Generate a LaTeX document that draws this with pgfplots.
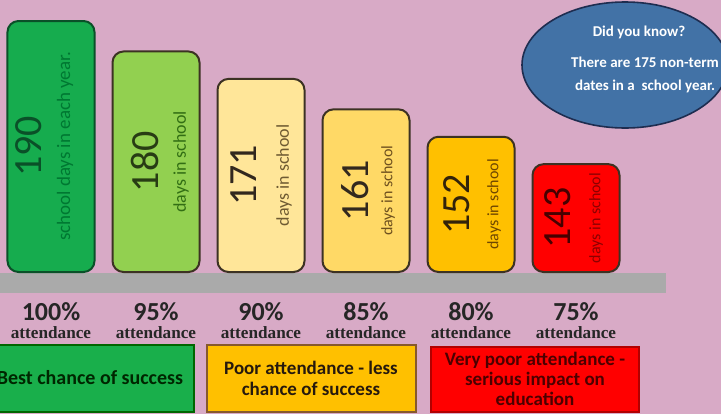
\documentclass[border=0pt]{standalone}
\usepackage{fontspec}
\setmainfont{Carlito}
\newfontfamily\attfont{Liberation Serif}
\usepackage{pgfplots}
\pgfplotsset{compat=1.18}

\definecolor{bgpink}{RGB}{216,170,198}
\definecolor{basegray}{RGB}{170,170,170}
\definecolor{c1}{RGB}{22,172,78}
\definecolor{c2}{RGB}{146,208,80}
\definecolor{c3}{RGB}{255,230,153}
\definecolor{c4}{RGB}{255,217,102}
\definecolor{c5}{RGB}{255,192,0}
\definecolor{c6}{RGB}{255,0,0}
\definecolor{edge}{RGB}{60,50,35}
\definecolor{c1n}{RGB}{10,80,40}
\definecolor{c1t}{RGB}{0,120,50}
\definecolor{c2n}{RGB}{40,60,20}
\definecolor{c2t}{RGB}{50,110,20}
\definecolor{c3n}{RGB}{50,40,30}
\definecolor{c3t}{RGB}{110,90,50}
\definecolor{c4n}{RGB}{50,40,30}
\definecolor{c4t}{RGB}{110,80,30}
\definecolor{c5n}{RGB}{50,35,10}
\definecolor{c5t}{RGB}{110,70,0}
\definecolor{c6n}{RGB}{70,0,0}
\definecolor{c6t}{RGB}{140,0,0}
\definecolor{ellfill}{RGB}{66,114,166}
\definecolor{elledge}{RGB}{30,45,80}
\definecolor{boxgreen}{RGB}{25,175,75}
\definecolor{boxyellow}{RGB}{255,192,0}
\definecolor{boxred}{RGB}{255,0,0}

\newcommand{\pct}[1]{{\fontsize{13}{13}\selectfont\bfseries #1}\\[-3pt]{\attfont\fontsize{8.6}{8.6}\selectfont\bfseries attendance}}

\begin{document}
\begin{tikzpicture}[x=0.5pt,y=0.5pt]
\clip (0,0) rectangle (721,414);
\fill[bgpink] (0,0) rectangle (721,414);

% did you know bubble
\draw[fill=ellfill, draw=elledge, line width=0.8pt] (625,349) ellipse [x radius=103, y radius=63];
\begin{scope}[every node/.style={text=white, font=\fontsize{7.5}{8}\selectfont\bfseries, inner sep=0pt}]
\node at (639,382) {Did you know?};
\node at (645,352) {There are 175 non-term};
\node at (645,328) {dates in a\ \ school year.};
\end{scope}

% grey base
\fill[basegray] (0,121) rectangle (666,141);

\begin{axis}[
  at={(-0.75pt,71pt)}, anchor=south west,
  x=52.5pt, y=1.523pt,
  xmin=-0.5, xmax=5.5, ymin=107.6, ymax=195,
  axis line style={draw=none}, major tick length=0pt,
  ytick=\empty, xtick={0,...,5},
  xticklabels={\pct{100\%},\pct{95\%},\pct{90\%},\pct{85\%},\pct{80\%},\pct{75\%}},
  xticklabel style={align=center, inner sep=0pt, anchor=north, yshift=-15pt, text=black!85},
  ybar, bar width=43.5pt, bar shift=0pt,
  clip=false,
  every axis plot/.append style={rounded corners=5.5pt, line width=1pt, draw=edge},
]
\addplot[fill=c1, draw=c1n] coordinates {(0,190)};
\addplot[fill=c2] coordinates {(1,180)};
\addplot[fill=c3] coordinates {(2,171)};
\addplot[fill=c4] coordinates {(3,161)};
\addplot[fill=c5] coordinates {(4,152)};
\addplot[fill=c6] coordinates {(5,143)};

\begin{scope}[every node/.style={rotate=90, inner sep=0pt}]
\node[font=\fontsize{20}{20}\selectfont, text=c1n] at ([xshift=-11pt]axis cs:0,148.8) {190};
\node[font=\fontsize{9.5}{10}\selectfont, text=c1t] at ([xshift=7pt]axis cs:0,148.8) {school days in each year.};
\node[font=\fontsize{20}{20}\selectfont, text=c2n] at ([xshift=-5.5pt]axis cs:1,143.8) {180};
\node[font=\fontsize{9}{10}\selectfont, text=c2t] at ([xshift=12.5pt]axis cs:1,143.8) {days in school};
\node[font=\fontsize{20}{20}\selectfont, text=c3n] at ([xshift=-8.5pt]axis cs:2,139.3) {171};
\node[font=\fontsize{9}{10}\selectfont, text=c3t] at ([xshift=11.5pt]axis cs:2,139.3) {days in school};
\node[font=\fontsize{20}{20}\selectfont, text=c4n] at ([xshift=-5.5pt]axis cs:3,134.3) {161};
\node[font=\fontsize{8}{10}\selectfont, text=c4t] at ([xshift=11pt]axis cs:3,134.3) {days in school};
\node[font=\fontsize{20}{20}\selectfont, text=c5n] at ([xshift=-7pt]axis cs:4,129.8) {152};
\node[font=\fontsize{8}{10}\selectfont, text=c5t] at ([xshift=11.5pt]axis cs:4,129.8) {days in school};
\node[font=\fontsize{20}{20}\selectfont, text=c6n] at ([xshift=-9pt]axis cs:5,125.3) {143};
\node[font=\fontsize{8}{10}\selectfont, text=c6t] at ([xshift=10pt]axis cs:5,125.3) {days in school};
\end{scope}
\end{axis}

% bottom message boxes
\draw[fill=boxgreen, draw=green!40!black, line width=0.6pt] (-12,2) rectangle (194,69);
\node[font=\fontsize{10}{11}\selectfont\bfseries, text=black!85!green] at (90,36) {Best chance of success};
\draw[fill=boxyellow, draw=brown!70!black, line width=0.6pt] (207,2) rectangle (416,69);
\node[font=\fontsize{9.5}{10.5}\selectfont\bfseries, text=black!80!brown, align=center] at (311,36) {Poor attendance - less\\chance of success};
\draw[fill=boxred, draw=red!70!black, line width=0.6pt] (431,2) rectangle (639,67);
\node[font=\fontsize{9.5}{10}\selectfont\bfseries, text=red!30!black, align=center] at (535,35) {Very poor attendance -\\serious impact on\\education};
\end{tikzpicture}
\end{document}
